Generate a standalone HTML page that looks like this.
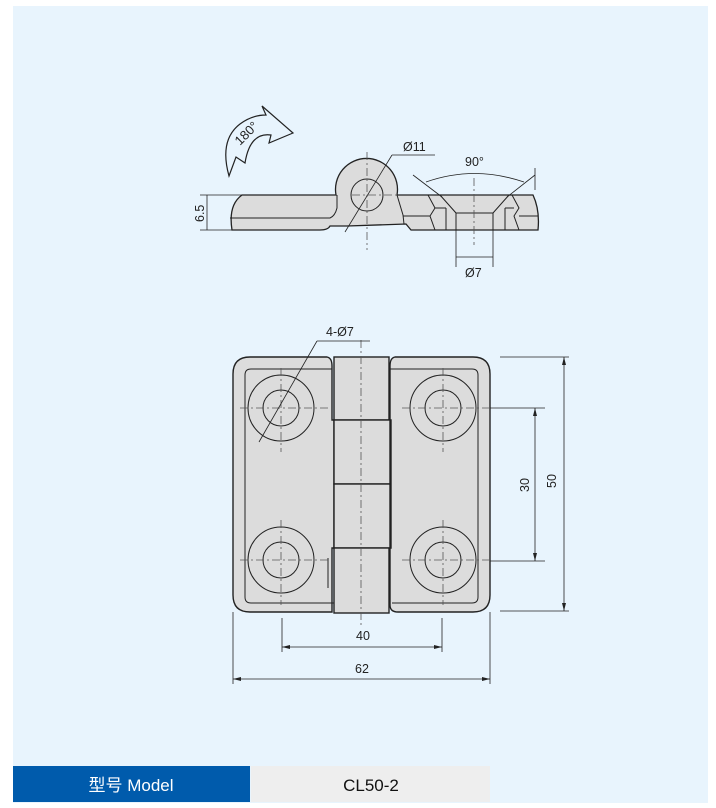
<!DOCTYPE html>
<html><head><meta charset="utf-8"><style>
html,body{margin:0;padding:0;background:#fff;width:716px;height:808px;overflow:hidden}
svg{position:absolute;left:0;top:0}
text{font-family:"Liberation Sans",sans-serif;font-size:12.5px;fill:#222}
</style></head><body>
<svg width="716" height="808" viewBox="0 0 716 808">
<rect x="13" y="6" width="695" height="797" fill="#e8f4fd"/>
<!-- table -->
<rect x="13" y="766" width="237" height="36" fill="#005bac"/>
<rect x="251" y="766" width="239" height="36" fill="#eeeeee"/>
<text x="131" y="791" text-anchor="middle" style="font-size:17px;fill:#fff;font-family:'Liberation Sans','Noto Sans CJK SC',sans-serif">型号 Model</text>
<text x="371" y="791" text-anchor="middle" style="font-size:17px;fill:#111">CL50-2</text>

<!-- rotation arrow -->
<path d="M229,176 Q219,140 240,124 Q252,115 266,115 L262,106 L293,133 L269,143 L271,135 Q250,132 245,163 L236,157 Z" fill="#e8f4fd" stroke="#222" stroke-width="1.2"/>
<text x="0" y="0" transform="translate(240,146) rotate(-45)" style="font-size:13px">180°</text>

<!-- side view -->
<g stroke="#222" stroke-width="1.3" fill="#dcdcdc">
<path d="M242,195 L336,195 A31,31 0 1 1 397,195 L520,195 L533,195 Q540,210 538,230 L411,230 L406,224 L347,226 L330,226 Q328,230 320,230 L232,230 Q228,205 242,195 Z"/>
</g>
<g stroke="#222" stroke-width="1" fill="none">
<circle cx="367" cy="195" r="16"/>
<path d="M230,218 L330,218 Q335,216 337,208 L337,195"/>
<path d="M397,195 L403,215 L404,224"/>
<path d="M403,216 L430,216"/>
<path d="M440,195 L456,213 L456,230 M493,213 L493,230 M456,213 L493,213 M509,195 L493,213 M440,195 L509,195"/>
<path d="M428,195 L435,208 L430,216 L435,230 M512,195 L519,208 L514,216 L519,230"/>
<path d="M435,208 L446,208 M446,208 L446,230 M505,208 L505,230 M505,208 L514,208"/>
<path d="M519,216 L538,216"/>
</g>
<g stroke="#555" stroke-width="0.8" fill="none" stroke-dasharray="8,3,2,3">
<line x1="367" y1="152" x2="367" y2="250"/>
<line x1="352" y1="195" x2="396" y2="195"/>
<line x1="474" y1="178" x2="474" y2="245"/>
</g>
<g stroke="#222" stroke-width="0.8" fill="none">
<line x1="345" y1="232" x2="392" y2="155"/>
<line x1="392" y1="155" x2="435" y2="155"/>
<line x1="413" y1="175" x2="442" y2="197"/>
<line x1="535" y1="175" x2="507" y2="197"/>
<line x1="535" y1="168" x2="535" y2="190"/>
<path d="M426,182 Q474,165 524,182"/>
<line x1="456" y1="230" x2="456" y2="267"/>
<line x1="493" y1="230" x2="493" y2="267"/>
<line x1="456" y1="257" x2="493" y2="257"/>
<line x1="200" y1="195" x2="242" y2="195"/>
<line x1="200" y1="230" x2="232" y2="230"/>
<line x1="207" y1="195" x2="207" y2="230"/>
</g>
<text x="403" y="151">Ø11</text>
<text x="465" y="166">90°</text>
<text x="465" y="277">Ø7</text>
<text x="0" y="0" transform="translate(204,222) rotate(-90)">6.5</text>

<!-- front view -->
<g stroke="#222" stroke-width="1.4" fill="#dcdcdc">
<path d="M250,357 L327,357 Q332,358 332,366 L332,420 L334,420 L334,548 L332,548 L332,612 L250,612 Q233,612 233,595 L233,374 Q233,357 250,357 Z"/>
<path d="M473,357 L395,357 Q390,358 390,366 L390,420 L391,420 L391,548 L390,548 L390,605 Q390,612 398,612 L473,612 Q490,612 490,595 L490,374 Q490,357 473,357 Z"/>
</g>
<g stroke="#222" stroke-width="1" fill="none">
<path d="M332,369 L251,369 Q245,369 245,375 L245,597 Q245,603 251,603 L334,603"/>
<path d="M390,369 L472,369 Q478,369 478,375 L478,597 Q478,603 472,603 L392,603"/>
</g>
<g stroke="#222" stroke-width="1.4" fill="#dcdcdc">
<rect x="334" y="357" width="55" height="63"/>
<rect x="334" y="420" width="56" height="64"/>
<rect x="334" y="484" width="56" height="64"/>
<rect x="334" y="548" width="55" height="65"/>
</g>
<g stroke="#222" stroke-width="1" fill="none">
<circle cx="281" cy="408" r="33"/><circle cx="281" cy="408" r="18"/>
<circle cx="443" cy="408" r="33"/><circle cx="443" cy="408" r="18"/>
<circle cx="281" cy="560" r="33"/><circle cx="281" cy="560" r="18"/>
<circle cx="443" cy="560" r="33"/><circle cx="443" cy="560" r="18"/>
<line x1="328" y1="558" x2="328" y2="588"/>
</g>
<g stroke="#555" stroke-width="0.8" fill="none" stroke-dasharray="8,3,2,3">
<line x1="361" y1="340" x2="361" y2="628"/>
<line x1="240" y1="408" x2="330" y2="408"/><line x1="281" y1="368" x2="281" y2="452"/>
<line x1="402" y1="408" x2="490" y2="408"/><line x1="443" y1="368" x2="443" y2="452"/>
<line x1="240" y1="560" x2="330" y2="560"/><line x1="281" y1="520" x2="281" y2="605"/>
<line x1="402" y1="560" x2="490" y2="560"/><line x1="443" y1="520" x2="443" y2="605"/>
</g>
<g stroke="#222" stroke-width="0.8" fill="none">
<line x1="259" y1="442" x2="317" y2="341"/>
<line x1="317" y1="341" x2="370" y2="341"/>
<line x1="490" y1="408" x2="545" y2="408"/>
<line x1="490" y1="561" x2="545" y2="561"/>
<line x1="500" y1="357" x2="569" y2="357"/>
<line x1="500" y1="611" x2="569" y2="611"/>
<line x1="535" y1="408" x2="535" y2="561"/>
<line x1="564" y1="357" x2="564" y2="611"/>
<line x1="282" y1="618" x2="282" y2="652"/>
<line x1="442" y1="618" x2="442" y2="652"/>
<line x1="282" y1="647" x2="442" y2="647"/>
<line x1="233" y1="612" x2="233" y2="684"/>
<line x1="490" y1="612" x2="490" y2="684"/>
<line x1="233" y1="679" x2="490" y2="679"/>
</g>
<g fill="#222">
<path d="M535,408 l-2,8 h4z"/><path d="M535,561 l-2,-8 h4z"/>
<path d="M564,357 l-2,8 h4z"/><path d="M564,611 l-2,-8 h4z"/>
<path d="M282,647 l8,-2 v4z"/><path d="M442,647 l-8,-2 v4z"/>
<path d="M233,679 l8,-2 v4z"/><path d="M490,679 l-8,-2 v4z"/>
</g>
<text x="326" y="336">4-Ø7</text>
<text x="356" y="640">40</text>
<text x="355" y="673">62</text>
<text x="0" y="0" transform="translate(529,492) rotate(-90)">30</text>
<text x="0" y="0" transform="translate(556,488) rotate(-90)">50</text>
</svg>
</body></html>
